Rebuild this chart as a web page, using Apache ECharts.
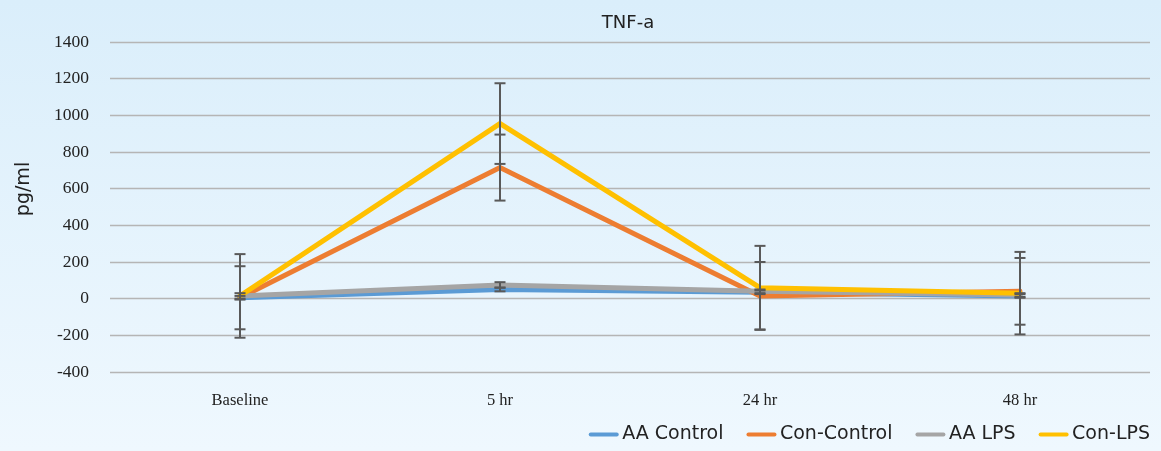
<!DOCTYPE html>
<html><head><meta charset="utf-8">
<script src="https://cdn.jsdelivr.net/npm/echarts@6/dist/echarts.min.js"></script>
<style>html,body{margin:0;padding:0;}#c{width:1161px;height:451px;background:linear-gradient(to bottom,#daeefb,#eff8fe);}</style>
</head><body><div id="c"></div>
<script>
const categories = ['Baseline', '5 hr', '24 hr', '48 hr'];
const aaControl = [5, 50, 35, 15];
const conControl = [5, 715, 15, 40];
const aaLps = [15, 75, 40, 20];
const conLps = [15, 955, 60, 30];
// error bar half-widths
const aaControlErr = [10, 10, 10, 10];
const conControlErr = [172, 180, 185, 182];
const aaLpsErr = [15, 15, 10, 10];
const conLpsErr = [228, 220, 228, 225];

const chart = echarts.init(document.getElementById('c'), null, {renderer: 'canvas'});
const colors = ['#5B9BD5', '#ED7D31', '#A5A5A5', '#FFC000'];
const names = ['AA Control', 'Con-Control', 'AA LPS', 'Con-LPS'];
const vals = [aaControl, conControl, aaLps, conLps];
const errs = [aaControlErr, conControlErr, aaLpsErr, conLpsErr];

const lineSeries = vals.map((v, i) => ({
  name: names[i], type: 'line', data: v, symbol: 'none',
  lineStyle: {color: colors[i], width: 5, cap: 'round', join: 'miter'},
  itemStyle: {color: colors[i]}, z: 2 + i
}));
const errSeries = vals.map((v, i) => ({
  type: 'custom', z: 10, silent: true,
  data: v.map((m, k) => [k, m - errs[i][k], m + errs[i][k]]),
  renderItem: function (params, api) {
    const lo = api.coord([api.value(0), api.value(1)]);
    const hi = api.coord([api.value(0), api.value(2)]);
    const w = 5.5;
    const st = {stroke: '#595959', lineWidth: 2};
    return {type: 'group', children: [
      {type: 'line', shape: {x1: hi[0], y1: hi[1], x2: lo[0], y2: lo[1]}, style: st},
      {type: 'line', shape: {x1: hi[0] - w, y1: hi[1], x2: hi[0] + w, y2: hi[1]}, style: st},
      {type: 'line', shape: {x1: lo[0] - w, y1: lo[1], x2: lo[0] + w, y2: lo[1]}, style: st}
    ]};
  }
}));

chart.setOption({
  animation: false,
  title: {text: 'TNF-a', left: 623, textAlign: 'center', top: 9, textStyle: {fontFamily: 'DejaVu Sans', fontSize: 18, fontWeight: 'normal', color: '#222'}},
  graphic: [{
    type: 'text', x: 24, y: 189, rotation: Math.PI / 2,
    style: {text: 'pg/ml', fontFamily: 'DejaVu Sans', fontSize: 19, fill: '#222', align: 'center', verticalAlign: 'middle'}
  }],
  legend: {
    data: names.map((n, i) => ({name: n, icon: 'path://M2,0 L28,0 A2,2 0 0 1 28,4 L2,4 A2,2 0 0 1 2,0 Z'})),
    right: 6, bottom: 2, itemWidth: 31, itemHeight: 4, itemGap: 23,
    textStyle: {fontFamily: 'DejaVu Sans', fontSize: 19, color: '#222', padding: [0, 0, 0, -2]}
  },
  grid: {left: 110, right: 11, top: 42, bottom: 79},
  xAxis: {
    type: 'category', data: categories, boundaryGap: true,
    axisLine: {show: false}, axisTick: {show: false},
    axisLabel: {fontFamily: 'Liberation Serif', fontSize: 16.5, color: '#222', margin: 20}
  },
  yAxis: {
    type: 'value', min: -400, max: 1400, interval: 200,
    axisLine: {show: false}, axisTick: {show: false},
    axisLabel: {fontFamily: 'Liberation Serif', fontSize: 17.5, color: '#222', margin: 21, formatter: v => String(v)},
    splitLine: {lineStyle: {color: '#b5b5b5', width: 1.3}}
  },
  series: lineSeries.concat(errSeries)
});
</script></body></html>
